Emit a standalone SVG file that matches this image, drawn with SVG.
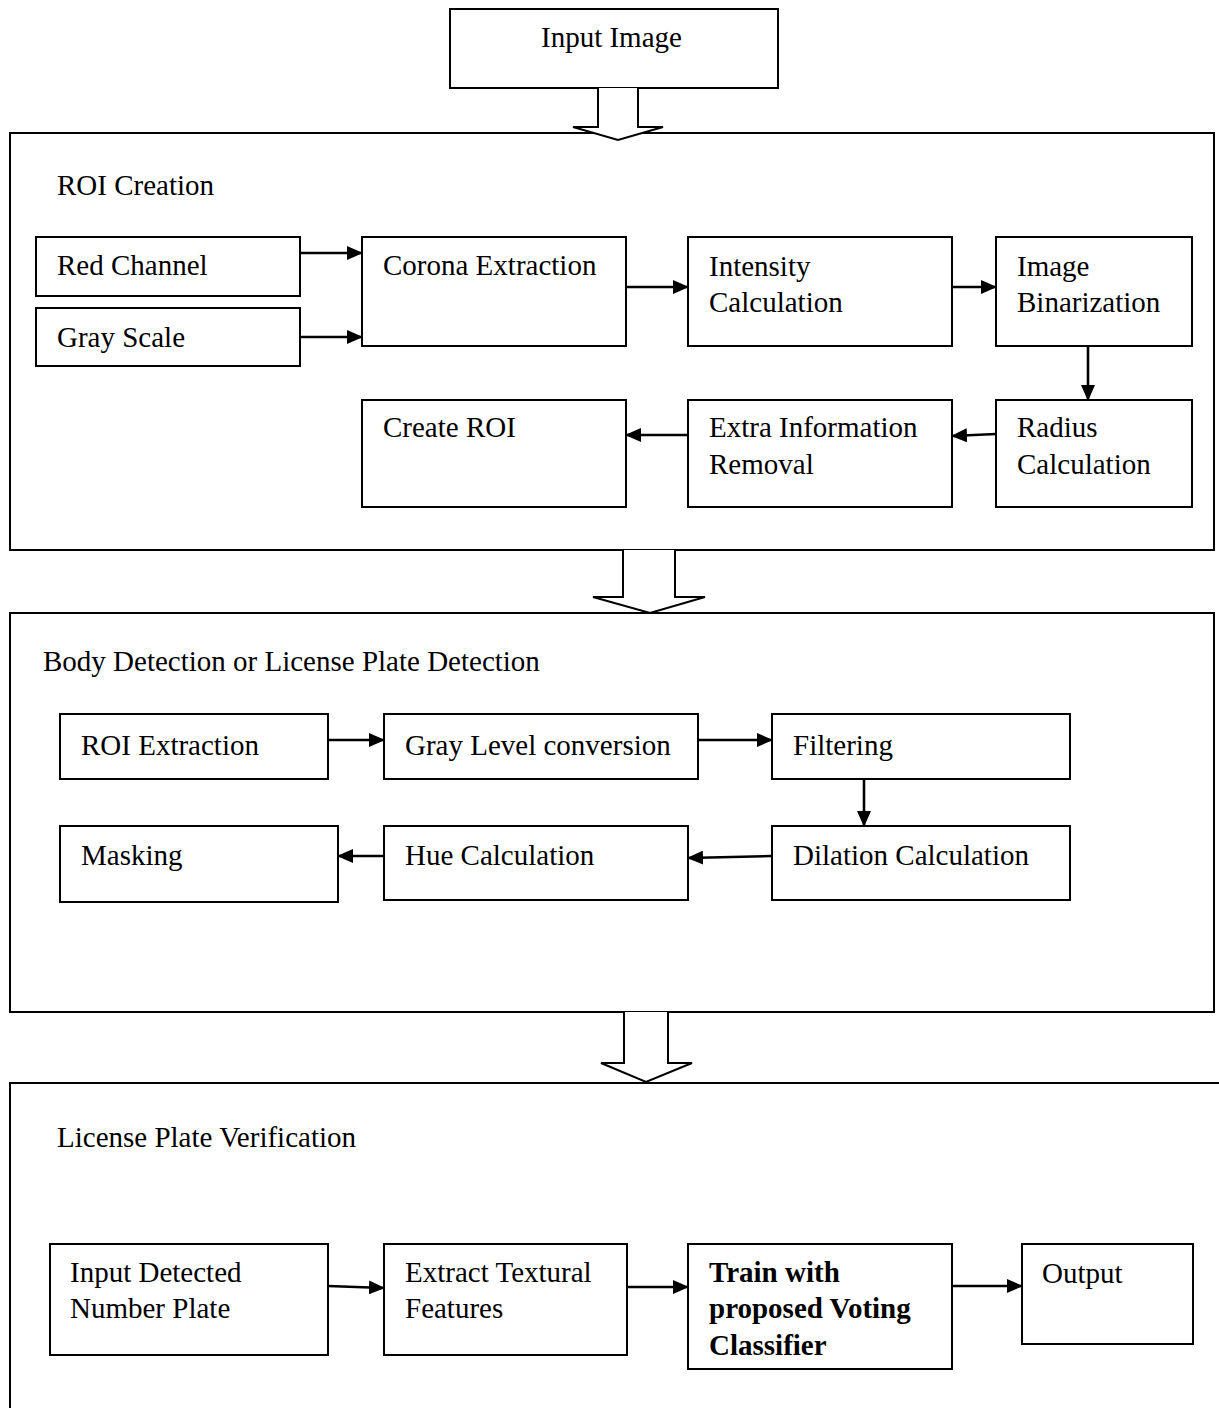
<svg xmlns="http://www.w3.org/2000/svg" width="1219" height="1408" viewBox="0 0 1219 1408">
<style>
  .box { fill: #fff; stroke: #000; stroke-width: 2; }
  .frame { fill: none; stroke: #000; stroke-width: 2; }
  .blk { fill: #fff; stroke: #000; stroke-width: 2; stroke-linejoin: miter; }
  .t { font-family: "Liberation Serif", "Times New Roman", serif; font-size: 29px; fill: #000; }
  .b { font-weight: bold; }
  .c { stroke: #000; stroke-width: 2.6; fill: none; }
</style>
<defs>
  <marker id="ah" markerUnits="userSpaceOnUse" markerWidth="16" markerHeight="14" refX="15" refY="7" orient="auto">
    <path d="M0,0 L16,7 L0,14 Z" fill="#000"/>
  </marker>
</defs>

<g id="input-image">
  <rect class="box" x="450" y="9" width="328" height="79"/>
  <text class="t" x="541" y="47">Input Image</text>
</g>

<g id="roi-creation">
  <rect class="frame" x="10" y="133" width="1204" height="417"/>
  <text class="t" x="57" y="195">ROI Creation</text>
</g>
<g id="red-channel">
  <rect class="box" x="36" y="237" width="264" height="59"/>
  <text class="t" x="57" y="275">Red Channel</text>
</g>
<g id="gray-scale">
  <rect class="box" x="36" y="308" width="264" height="58"/>
  <text class="t" x="57" y="347">Gray Scale</text>
</g>
<g id="corona-extraction">
  <rect class="box" x="362" y="237" width="264" height="109"/>
  <text class="t" x="383" y="275">Corona Extraction</text>
</g>
<g id="intensity-calculation">
  <rect class="box" x="688" y="237" width="264" height="109"/>
  <text class="t" x="709" y="276">Intensity</text>
  <text class="t" x="709" y="312">Calculation</text>
</g>
<g id="image-binarization">
  <rect class="box" x="996" y="237" width="196" height="109"/>
  <text class="t" x="1017" y="276">Image</text>
  <text class="t" x="1017" y="312">Binarization</text>
</g>
<g id="radius-calculation">
  <rect class="box" x="996" y="400" width="196" height="107"/>
  <text class="t" x="1017" y="437">Radius</text>
  <text class="t" x="1017" y="474">Calculation</text>
</g>
<g id="extra-information-removal">
  <rect class="box" x="688" y="400" width="264" height="107"/>
  <text class="t" x="709" y="437">Extra Information</text>
  <text class="t" x="709" y="474">Removal</text>
</g>
<g id="create-roi">
  <rect class="box" x="362" y="400" width="264" height="107"/>
  <text class="t" x="383" y="437">Create ROI</text>
</g>

<g id="body-detection">
  <rect class="frame" x="10" y="613" width="1204" height="399"/>
  <text class="t" x="43" y="671">Body Detection or License Plate Detection</text>
</g>
<g id="roi-extraction">
  <rect class="box" x="60" y="714" width="268" height="65"/>
  <text class="t" x="81" y="755">ROI Extraction</text>
</g>
<g id="gray-level-conversion">
  <rect class="box" x="384" y="714" width="314" height="65"/>
  <text class="t" x="405" y="755">Gray Level conversion</text>
</g>
<g id="filtering">
  <rect class="box" x="772" y="714" width="298" height="65"/>
  <text class="t" x="793" y="755">Filtering</text>
</g>
<g id="dilation-calculation">
  <rect class="box" x="772" y="826" width="298" height="74"/>
  <text class="t" x="793" y="865">Dilation Calculation</text>
</g>
<g id="hue-calculation">
  <rect class="box" x="384" y="826" width="304" height="74"/>
  <text class="t" x="405" y="865">Hue Calculation</text>
</g>
<g id="masking">
  <rect class="box" x="60" y="826" width="278" height="76"/>
  <text class="t" x="81" y="865">Masking</text>
</g>

<g id="license-plate-verification">
  <path class="frame" d="M1219,1083 L10,1083 L10,1408"/>
  <text class="t" x="57" y="1147">License Plate Verification</text>
</g>
<g id="input-detected-number-plate">
  <rect class="box" x="50" y="1244" width="278" height="111"/>
  <text class="t" x="70" y="1282">Input Detected</text>
  <text class="t" x="70" y="1318">Number Plate</text>
</g>
<g id="extract-textural-features">
  <rect class="box" x="384" y="1244" width="243" height="111"/>
  <text class="t" x="405" y="1282">Extract Textural</text>
  <text class="t" x="405" y="1318">Features</text>
</g>
<g id="train-voting-classifier">
  <rect class="box" x="688" y="1244" width="264" height="125"/>
  <text class="t b" x="709" y="1282">Train with</text>
  <text class="t b" x="709" y="1318">proposed Voting</text>
  <text class="t b" x="709" y="1355">Classifier</text>
</g>
<g id="output">
  <rect class="box" x="1022" y="1244" width="171" height="100"/>
  <text class="t" x="1042" y="1283">Output</text>
</g>

<g id="connectors">
  <path class="blk" d="M598,88 L598,127 L573,127 L618,140 L663,127 L638,127 L638,88"/>
  <path class="blk" d="M623,550 L623,597 L593,597 L650,613 L705,597 L675,597 L675,550"/>
  <path class="blk" d="M624,1012 L624,1063 L601,1063 L646,1082 L692,1063 L668,1063 L668,1012"/>

  <line class="c" x1="300" y1="253" x2="362" y2="253" marker-end="url(#ah)"/>
  <line class="c" x1="300" y1="337" x2="362" y2="337" marker-end="url(#ah)"/>
  <line class="c" x1="626" y1="287" x2="688" y2="287" marker-end="url(#ah)"/>
  <line class="c" x1="952" y1="287" x2="996" y2="287" marker-end="url(#ah)"/>
  <line class="c" x1="1088" y1="346" x2="1088" y2="400" marker-end="url(#ah)"/>
  <line class="c" x1="996" y1="434" x2="952" y2="436" marker-end="url(#ah)"/>
  <line class="c" x1="688" y1="435" x2="626" y2="435" marker-end="url(#ah)"/>

  <line class="c" x1="328" y1="740" x2="384" y2="740" marker-end="url(#ah)"/>
  <line class="c" x1="698" y1="740" x2="772" y2="740" marker-end="url(#ah)"/>
  <line class="c" x1="864" y1="779" x2="864" y2="826" marker-end="url(#ah)"/>
  <line class="c" x1="772" y1="856" x2="688" y2="858" marker-end="url(#ah)"/>
  <line class="c" x1="384" y1="856" x2="338" y2="856" marker-end="url(#ah)"/>

  <line class="c" x1="328" y1="1286" x2="384" y2="1288" marker-end="url(#ah)"/>
  <line class="c" x1="627" y1="1287" x2="688" y2="1287" marker-end="url(#ah)"/>
  <line class="c" x1="952" y1="1286" x2="1022" y2="1286" marker-end="url(#ah)"/>
</g>
</svg>
